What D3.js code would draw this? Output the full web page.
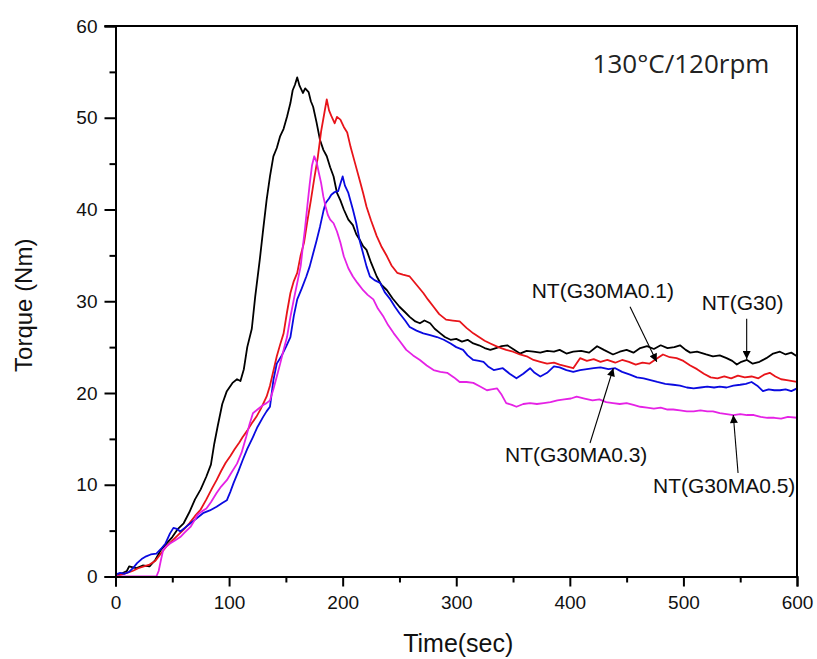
<!DOCTYPE html>
<html><head><meta charset="utf-8">
<script src="https://cdn.jsdelivr.net/npm/d3@7/dist/d3.min.js"></script>
<style>body{margin:0;background:#fff;} svg{display:block;}</style>
</head><body>
<svg id="chart" width="817" height="659"></svg>
<script>
// ---------------- DATA ----------------
const xTicks = [0, 100, 200, 300, 400, 500, 600];
const yTicks = [0, 10, 20, 30, 40, 50, 60];
const seriesNames = ["NT(G30)", "NT(G30MA0.1)", "NT(G30MA0.3)", "NT(G30MA0.5)"];
const seriesColors = ["#000000", "#e8141a", "#0a0ae0", "#e522e5"];

// [time (sec), torque (Nm)]
const g30 = [[0,0],[5,0.3],[10,0.6],[12,1.1],[18,0.9],[24,1.2],[30,1.1],[35,1.8],[40,2.9],[45,3.6],[50,4.3],[55,5.2],[60,5.8],[65,7.0],[70,8.4],[75,9.5],[80,10.9],[84,12.2],[87,14.5],[90,16.4],[94,18.8],[98,20.2],[103,21.1],[107,21.5],[110,21.3],[113,22.6],[116,25.0],[120,27.0],[123,30.5],[127,34.5],[130,37.8],[133,41.0],[136,43.6],[139,45.8],[142,46.7],[145,48.0],[148,48.8],[151,50.1],[154,51.6],[156,53.0],[158,53.6],[160,54.4],[162,53.5],[165,52.7],[167,53.2],[170,52.8],[172,51.8],[174,51.2],[177,49.5],[180,47.6],[183,46.5],[186,45.8],[189,44.6],[192,43.6],[195,41.8],[198,41.0],[201,40.0],[205,38.9],[209,38.3],[212,37.3],[215,36.7],[218,36.0],[221,35.6],[225,34.2],[230,32.7],[234,31.8],[239,31.2],[244,30.3],[250,29.4],[255,28.8],[259,28.3],[264,27.8],[268,27.6],[272,27.9],[277,27.6],[281,27.0],[286,26.5],[290,26.1],[295,25.8],[300,25.9],[305,25.6],[310,25.8],[315,25.4],[320,25.2],[325,24.9],[330,24.7],[335,24.9],[340,25.1],[345,25.2],[350,24.8],[356,24.3],[362,24.6],[368,24.5],[374,24.4],[380,24.6],[386,24.5],[391,24.7],[397,24.3],[403,24.5],[410,24.6],[417,24.4],[424,25.1],[430,24.7],[438,24.2],[444,24.5],[450,24.7],[456,24.4],[462,24.9],[468,25.1],[474,24.8],[480,25.2],[486,24.9],[492,25.0],[497,25.2],[502,24.7],[506,24.4],[512,24.5],[520,24.2],[526,24.0],[532,24.1],[538,23.8],[543,23.5],[547,23.1],[551,23.4],[556,23.6],[561,23.2],[567,23.4],[573,23.8],[579,24.3],[585,24.5],[590,24.2],[595,24.4],[600,24.0]];

const g30ma01 = [[0,0],[5,0.2],[10,0.4],[15,0.6],[20,0.9],[25,1.1],[30,1.3],[35,1.7],[40,2.5],[45,3.3],[50,3.9],[55,4.5],[60,5.1],[65,5.8],[70,6.6],[75,7.3],[80,8.4],[85,9.6],[89,10.5],[93,11.5],[97,12.4],[101,13.1],[105,13.9],[109,14.6],[112,15.2],[116,15.9],[120,16.7],[124,17.4],[128,18.3],[133,19.6],[136,20.8],[139,22.4],[142,24.0],[145,25.3],[148,26.5],[151,28.8],[154,30.9],[157,32.2],[160,33.1],[163,35.0],[166,36.4],[169,38.8],[172,41.0],[175,43.4],[178,45.6],[181,48.5],[184,50.6],[186,52.0],[188,50.8],[190,50.2],[193,49.4],[195,50.1],[198,49.8],[201,49.0],[204,48.4],[207,46.8],[211,45.0],[215,43.2],[218,41.8],[221,40.3],[225,38.8],[230,37.1],[234,36.0],[239,34.9],[243,33.9],[248,33.1],[253,32.9],[259,32.7],[265,31.8],[271,30.9],[275,30.2],[280,29.4],[285,28.6],[291,28.0],[297,27.9],[303,27.8],[309,27.1],[315,26.5],[320,26.1],[325,25.7],[330,25.4],[337,25.0],[344,24.7],[350,24.5],[356,24.2],[362,24.0],[368,23.6],[374,23.4],[380,23.2],[386,23.3],[391,23.1],[397,22.9],[403,22.7],[409,23.8],[415,23.5],[421,23.7],[427,23.4],[433,23.6],[440,23.3],[446,23.6],[452,23.4],[458,23.1],[464,23.3],[470,23.2],[476,23.7],[482,24.2],[488,23.9],[494,23.8],[500,23.5],[506,23.0],[512,22.6],[518,22.1],[524,21.7],[530,21.6],[536,21.8],[542,21.6],[548,21.9],[554,21.7],[560,21.8],[566,21.6],[571,22.0],[576,22.2],[581,21.8],[586,21.5],[591,21.4],[596,21.3],[600,21.2]];

const g30ma03 = [[0,0.2],[4,0.4],[8,0.3],[12,0.5],[16,1.0],[19,1.45],[23,1.9],[27,2.2],[31,2.4],[36,2.5],[40,3.0],[44,3.6],[48,4.7],[51,5.3],[54,5.2],[57,4.9],[61,5.3],[66,5.8],[71,6.3],[77,6.9],[83,7.2],[89,7.6],[94,8.0],[98,8.3],[101,9.2],[104,10.2],[108,11.4],[112,12.7],[116,13.9],[121,15.2],[125,16.3],[130,17.4],[133,18.0],[136,18.5],[139,21.4],[142,23.2],[146,24.0],[150,25.0],[154,26.1],[157,28.4],[160,30.2],[164,31.4],[168,32.7],[171,33.8],[174,35.2],[177,36.6],[180,38.1],[183,39.8],[185,40.7],[188,41.2],[190,41.6],[193,41.9],[196,42.0],[198,42.8],[200,43.6],[202,42.6],[205,41.8],[209,40.0],[212,38.5],[215,36.6],[218,35.2],[221,33.8],[224,32.7],[228,32.3],[233,32.0],[237,31.0],[242,30.2],[246,29.4],[250,28.7],[255,27.9],[259,27.2],[265,26.8],[271,26.5],[277,26.3],[283,26.1],[289,25.8],[295,25.4],[300,25.0],[306,24.7],[310,24.1],[315,23.6],[320,23.5],[324,23.4],[328,22.9],[333,22.5],[337,22.6],[341,22.7],[347,22.1],[353,21.6],[359,22.1],[365,22.7],[369,22.2],[374,21.8],[380,22.2],[386,22.9],[391,22.8],[397,22.5],[403,22.3],[409,22.5],[415,22.6],[421,22.7],[427,22.8],[434,22.6],[440,22.7],[446,22.3],[453,22.0],[459,21.7],[465,21.6],[471,21.4],[477,21.2],[484,21.0],[491,20.9],[497,20.8],[503,20.6],[509,20.5],[515,20.6],[521,20.7],[527,20.6],[532,20.7],[538,20.6],[544,20.8],[550,20.9],[555,21.0],[560,21.2],[565,20.8],[570,20.2],[575,20.4],[580,20.3],[585,20.3],[590,20.4],[595,20.2],[600,20.5]];

const g30ma05 = [[0,0],[10,0],[20,0],[30,0],[36,0],[38,0.6],[40,1.8],[42,2.9],[45,3.3],[48,3.6],[52,3.9],[57,4.3],[61,4.8],[66,5.4],[70,6.2],[72,6.7],[76,7.1],[80,7.4],[84,8.1],[89,9.1],[93,9.8],[98,10.5],[102,11.3],[107,12.3],[111,13.5],[115,15.2],[118,16.6],[121,17.8],[125,18.2],[130,18.7],[133,18.9],[136,19.2],[139,20.4],[142,21.8],[145,23.2],[148,24.7],[151,26.1],[154,28.3],[157,30.2],[160,32.0],[163,33.8],[165,36.0],[167,38.1],[169,40.5],[171,42.8],[173,44.8],[175,45.8],[177,45.2],[179,44.0],[181,42.9],[183,41.4],[185,40.3],[187,39.4],[189,38.9],[192,38.5],[195,37.6],[198,36.4],[201,34.9],[205,33.6],[209,32.7],[213,32.0],[218,31.2],[222,30.7],[227,30.2],[231,29.2],[236,28.3],[240,27.4],[245,26.5],[250,25.7],[256,24.7],[262,24.1],[268,23.6],[274,23.0],[280,22.5],[286,22.3],[292,22.2],[298,21.7],[303,21.2],[309,21.2],[315,21.1],[321,20.7],[327,20.3],[331,20.4],[336,20.5],[340,19.8],[344,18.9],[349,18.7],[353,18.5],[359,18.8],[365,18.9],[371,18.8],[377,18.9],[383,19.0],[389,19.2],[395,19.3],[401,19.4],[406,19.6],[413,19.4],[420,19.2],[426,19.3],[432,19.0],[438,18.9],[444,18.8],[450,18.9],[456,18.7],[462,18.5],[468,18.4],[474,18.3],[480,18.4],[486,18.2],[491,18.2],[497,18.1],[503,18.0],[509,18.0],[515,18.1],[521,18.0],[526,18.0],[532,17.8],[538,17.7],[544,17.6],[550,17.7],[556,17.6],[562,17.6],[568,17.4],[574,17.3],[580,17.3],[586,17.2],[592,17.4],[600,17.3]];

const allSeries = [g30, g30ma01, g30ma03, g30ma05];

// annotations in data units: label anchor (start, baseline) and arrow from -> to
const annLabels = ["NT(G30MA0.1)", "NT(G30)", "NT(G30MA0.3)", "NT(G30MA0.5)"];
const annTextPos = [[366.4, 30.3], [516.1, 29.05], [342.9, 12.51], [473.2, 9.07]];
const annArrowFrom = [[453.0, 29.4], [555.7, 28.1], [417.8, 14.55], [548.1, 11.28]];
const annArrowTo = [[476.5, 23.4], [555.7, 23.7], [438.3, 22.7], [543.9, 17.6]];

// ---------------- CHART ----------------
const svg = d3.select("#chart");
const L = 115.5, R = 797, T = 26, B = 576.5;
const x = d3.scaleLinear().domain([0, 600]).range([L, R]);
const y = d3.scaleLinear().domain([0, 60]).range([B, T]);
const axisFont = "'Liberation Sans', Arial, sans-serif";

// curves
const line = d3.line().x(d => x(d[0])).y(d => y(d[1]));
const clipId = "plotclip";
svg.append("clipPath").attr("id", clipId).append("rect")
  .attr("x", L).attr("y", T).attr("width", R - L).attr("height", B - T);
const gLines = svg.append("g").attr("clip-path", `url(#${clipId})`);
allSeries.forEach((s, i) => {
  gLines.append("path").datum(s)
    .attr("d", line)
    .attr("fill", "none")
    .attr("stroke", seriesColors[i])
    .attr("stroke-width", 1.8)
    .attr("stroke-linejoin", "round");
});

// frame top/right
svg.append("line").attr("x1", L - 11).attr("x2", R + 1).attr("y1", T).attr("y2", T)
  .attr("stroke", "#000").attr("stroke-width", 2);
svg.append("line").attr("x1", R).attr("x2", R).attr("y1", T).attr("y2", B + 1)
  .attr("stroke", "#000").attr("stroke-width", 2);

// axes
const xAxis = svg.append("g").attr("transform", `translate(0,${B})`)
  .call(d3.axisBottom(x).tickValues(xTicks).tickSize(10).tickPadding(9).tickFormat(d3.format("d")));
const xMinor = svg.append("g").attr("transform", `translate(0,${B})`)
  .call(d3.axisBottom(x).tickValues(d3.range(50, 600, 100)).tickSize(6).tickFormat(""));
const yAxis = svg.append("g").attr("transform", `translate(${L},0)`)
  .call(d3.axisLeft(y).tickValues(yTicks).tickSize(11).tickPadding(7).tickFormat(d3.format("d")));
const yMinor = svg.append("g").attr("transform", `translate(${L},0)`)
  .call(d3.axisLeft(y).tickValues(d3.range(5, 60, 10)).tickSize(6).tickFormat(""));

[xAxis, xMinor, yAxis, yMinor].forEach(g => {
  g.select(".domain").attr("stroke", "#000").attr("stroke-width", 2);
  g.selectAll(".tick line").attr("stroke", "#000").attr("stroke-width", 2);
  g.selectAll(".tick text").attr("font-family", axisFont).attr("font-size", 19).attr("fill", "#111");
});
xMinor.select(".domain").remove();
yMinor.select(".domain").remove();

// axis titles
svg.append("text").attr("x", (L + R) / 2 + 2).attr("y", 652)
  .attr("text-anchor", "middle").attr("font-family", axisFont).attr("font-size", 25)
  .attr("fill", "#111").text("Time(sec)");
svg.append("text").attr("transform", `translate(32,${(T + B) / 2 + 4}) rotate(-90)`)
  .attr("text-anchor", "middle").attr("font-family", axisFont).attr("font-size", 24)
  .attr("fill", "#111").text("Torque (Nm)");

// condition label
svg.append("text").attr("x", x(420)).attr("y", y(54.9))
  .attr("font-family", "'Open Sans', 'Noto Sans', sans-serif").attr("font-size", 26)
  .attr("fill", "#222").text("130°C/120rpm");

// annotations
const defs = svg.append("defs");
defs.append("marker").attr("id", "arrowhead").attr("viewBox", "0 0 10 10")
  .attr("refX", 10).attr("refY", 5).attr("markerWidth", 11).attr("markerHeight", 8)
  .attr("markerUnits", "userSpaceOnUse").attr("orient", "auto")
  .append("path").attr("d", "M0,0 L10,5 L0,10 Z").attr("fill", "#000");

annLabels.forEach((lab, i) => {
  svg.append("text").attr("x", x(annTextPos[i][0])).attr("y", y(annTextPos[i][1]))
    .attr("font-family", axisFont).attr("font-size", 21).attr("fill", "#111").text(lab);
  svg.append("line")
    .attr("x1", x(annArrowFrom[i][0])).attr("y1", y(annArrowFrom[i][1]))
    .attr("x2", x(annArrowTo[i][0])).attr("y2", y(annArrowTo[i][1]))
    .attr("stroke", "#000").attr("stroke-width", 1.1)
    .attr("marker-end", "url(#arrowhead)");
});
</script>
</body></html>
